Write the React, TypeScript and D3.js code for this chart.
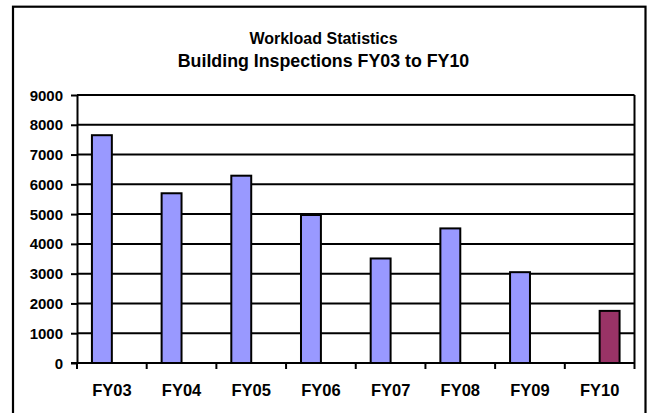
import React, { useEffect, useRef } from 'react';
import * as d3 from 'd3';

const years = ['FY03', 'FY04', 'FY05', 'FY06', 'FY07', 'FY08', 'FY09', 'FY10'];
const seriesNames = ['Inspections', 'FY10 YTD'];
const inspections = [7650, 5700, 6290, 4970, 3510, 4520, 3050, null];
const fy10Values = [null, null, null, null, null, null, null, 1750];
const seriesColors = ['#9999FF', '#993366'];
const yTicks = [0, 1000, 2000, 3000, 4000, 5000, 6000, 7000, 8000, 9000];
const titleLines = ['Workload Statistics', 'Building Inspections FY03 to FY10'];

const App = () => {
  const chartRef = useRef<SVGSVGElement>(null);

  useEffect(() => {
    if (!chartRef.current) return;
    const svg = d3.select(chartRef.current);
    svg.selectAll('*').remove();

    const H = 413;
    const left = 77, right = 634.5, top = 95, bottom = 363;
    const font = 'Arial, "Liberation Sans", sans-serif';

    // outer chart border (bottom edge falls outside the picture)
    svg.append('rect')
      .attr('x', 13).attr('y', 6.7)
      .attr('width', 632.5).attr('height', H)
      .attr('fill', 'white').attr('stroke', 'black').attr('stroke-width', 2.2);

    // second title line is set a little larger than the first
    svg.selectAll('.title')
      .data(titleLines)
      .enter().append('text')
      .attr('x', 323.5)
      .attr('y', (d, i) => (i === 0 ? 43.5 : 66.7))
      .attr('text-anchor', 'middle')
      .attr('font-family', font).attr('font-weight', 'bold')
      .attr('font-size', (d, i) => (i === 0 ? 16 : 17.8))
      .text(d => d);

    const x = d3.scaleBand().domain(years).range([left, right]).padding(0);
    const groupW = x.bandwidth() * 2 / 3.5;
    const x1 = d3.scaleBand().domain(seriesNames).range([0, groupW]).padding(0);
    const y = d3.scaleLinear().domain([0, 9000]).range([bottom, top]);

    // gridlines
    svg.append('g').selectAll('line')
      .data(yTicks.filter(t => t > 0))
      .enter().append('line')
      .attr('x1', left).attr('x2', right)
      .attr('y1', d => y(d)).attr('y2', d => y(d))
      .attr('stroke', 'black').attr('stroke-width', 2);

    // right plot border
    svg.append('line')
      .attr('x1', right).attr('x2', right)
      .attr('y1', top).attr('y2', bottom)
      .attr('stroke', 'black').attr('stroke-width', 2);

    // bars
    const allSeries = [inspections, fy10Values];
    allSeries.forEach((vals, s) => {
      svg.append('g').selectAll('rect')
        .data(years.map((yr, i) => ({ yr, v: vals[i] })).filter(d => d.v != null))
        .enter().append('rect')
        .attr('x', d => (x(d.yr) as number) + (x.bandwidth() - groupW) / 2 + (x1(seriesNames[s]) as number))
        .attr('y', d => y(d.v as number))
        .attr('width', x1.bandwidth())
        .attr('height', d => y(0) - y(d.v as number))
        .attr('fill', seriesColors[s])
        .attr('stroke', 'black').attr('stroke-width', 2);
    });

    // y axis
    const yAxis = svg.append('g')
      .attr('transform', `translate(${left},0)`)
      .call(d3.axisLeft(y).tickValues(yTicks).tickFormat(d3.format('d')).tickSize(6).tickPadding(8).tickSizeOuter(0));
    yAxis.select('.domain').attr('stroke', 'black').attr('stroke-width', 2);
    yAxis.selectAll('.tick line').attr('stroke', 'black').attr('stroke-width', 2);
    yAxis.selectAll('.tick text')
      .attr('font-family', font).attr('font-weight', 'bold').attr('font-size', 15)
      .attr('fill', 'black').attr('dy', '0.34em');

    // x axis
    const boundaries = years.map(d => x(d) as number).concat([right]);
    svg.append('line')
      .attr('x1', left - 6).attr('x2', right)
      .attr('y1', bottom).attr('y2', bottom)
      .attr('stroke', 'black').attr('stroke-width', 2);
    svg.append('g').selectAll('line')
      .data(boundaries)
      .enter().append('line')
      .attr('x1', d => d).attr('x2', d => d)
      .attr('y1', bottom).attr('y2', bottom + 6)
      .attr('stroke', 'black').attr('stroke-width', 2);
    svg.append('g').selectAll('text')
      .data(years)
      .enter().append('text')
      .attr('x', d => (x(d) as number) + x.bandwidth() / 2)
      .attr('y', 395.5)
      .attr('text-anchor', 'middle')
      .attr('font-family', font).attr('font-weight', 'bold').attr('font-size', 16.5)
      .text(d => d);
  }, []);

  return (
    <svg ref={chartRef} width={650} height={413}
      style={{ position: 'absolute', left: 0, top: 0, background: 'white' }} />
  );
};

export default App;
